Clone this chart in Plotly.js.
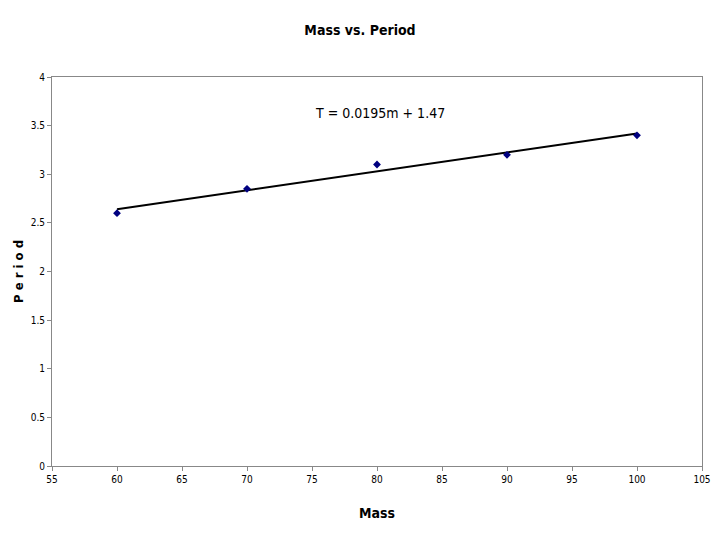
<!DOCTYPE html>
<html><head><meta charset="utf-8">
<script src="https://cdn.plot.ly/plotly-3.0.1.min.js"></script>
<style>body{margin:0;background:#fff}#chart{width:720px;height:540px}</style>
</head><body><div id="chart"></div>
<script>
const mass = [60, 70, 80, 90, 100];
const period = [2.6, 2.85, 3.1, 3.2, 3.4];
const slope = 0.0195, intercept = 1.47;
const trendX = [60, 100];
const trendY = trendX.map(m => slope * m + intercept);
const font = "'Liberation Sans Narrow', 'Arial Narrow', 'DejaVu Sans Condensed', 'Liberation Sans', Arial, sans-serif";

Plotly.newPlot('chart', [
  {x: trendX, y: trendY, mode: 'lines', line: {color: '#000', width: 2}, hoverinfo: 'skip'},
  {x: mass, y: period, mode: 'markers', marker: {symbol: 'diamond', color: '#000080', size: 6}}
], {
  width: 720, height: 540,
  margin: {l: 52, r: 18, t: 77, b: 74},
  showlegend: false,
  paper_bgcolor: '#fff', plot_bgcolor: '#fff',
  font: {family: font, color: '#000', size: 10},
  title: {text: '<b>Mass vs. Period</b>', font: {family: font, size: 14}, x: 0.5, xanchor: 'center', y: 0.945, yanchor: 'middle'},
  xaxis: {range: [55, 105], dtick: 5, tick0: 55, showgrid: false, zeroline: false,
    showline: true, linecolor: '#888', linewidth: 1, mirror: true,
    ticks: 'outside', ticklen: 4, tickcolor: '#888',
    title: {text: '<b>Mass</b>', font: {family: font, size: 14}, standoff: 24}},
  yaxis: {range: [0, 4], dtick: 0.5, showgrid: false, zeroline: false,
    showline: true, linecolor: '#888', linewidth: 1, mirror: true,
    ticks: 'outside', ticklen: 4, tickcolor: '#888',
    title: {text: '<b>P e r i o d</b>', font: {family: font, size: 13}, standoff: 4}},
  annotations: [{x: 80.2, y: 3.63, xref: 'x', yref: 'y', text: 'T = 0.0195m + 1.47', showarrow: false,
    font: {family: font, size: 14}}]
}, {displayModeBar: false, staticPlot: true});
</script></body></html>
